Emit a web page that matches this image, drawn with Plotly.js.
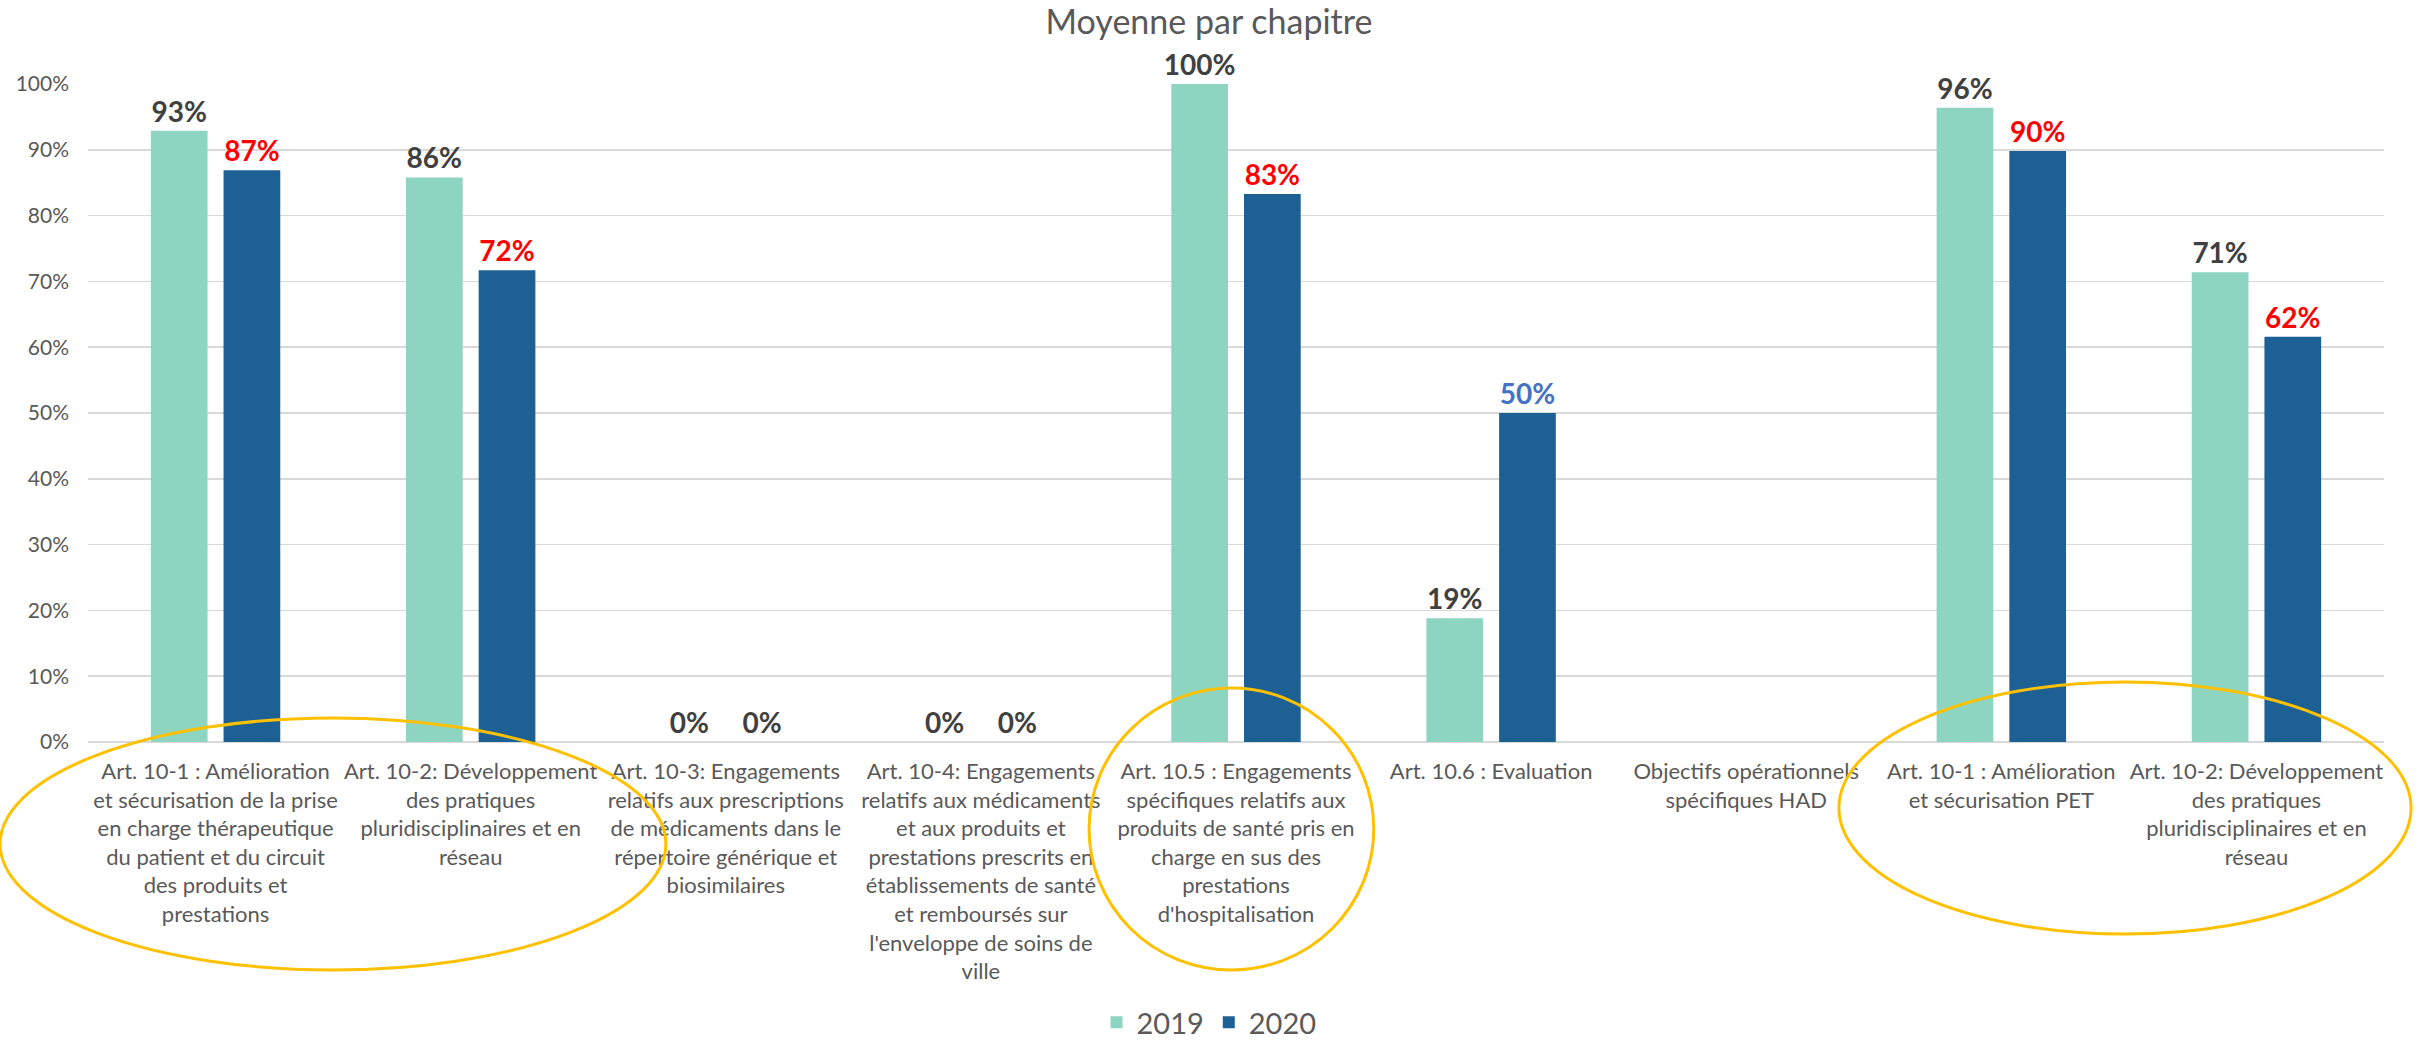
<!DOCTYPE html>
<html>
<head>
<meta charset="utf-8">
<script src="https://cdn.plot.ly/plotly-3.0.1.min.js"></script>
<style>html,body{margin:0;padding:0;background:#fff;}#chart{width:2418px;height:1048px;}</style>
</head>
<body>
<div id="chart"></div>
<script>
var categories = [
  "Art. 10-1 : Amélioration<br>et sécurisation de la prise<br>en charge thérapeutique<br>du patient et du circuit<br>des produits et<br>prestations",
  "Art. 10-2: Développement<br>des pratiques<br>pluridisciplinaires et en<br>réseau",
  "Art. 10-3: Engagements<br>relatifs aux prescriptions<br>de médicaments dans le<br>répertoire générique et<br>biosimilaires",
  "Art. 10-4: Engagements<br>relatifs aux médicaments<br>et aux produits et<br>prestations prescrits en<br>établissements de santé<br>et remboursés sur<br>l'enveloppe de soins de<br>ville",
  "Art. 10.5 : Engagements<br>spécifiques relatifs aux<br>produits de santé pris en<br>charge en sus des<br>prestations<br>d'hospitalisation",
  "Art. 10.6 : Evaluation",
  "Objectifs opérationnels<br>spécifiques HAD",
  "Art. 10-1 : Amélioration<br>et sécurisation PET",
  "Art. 10-2: Développement<br>des pratiques<br>pluridisciplinaires et en<br>réseau"
];
var positions = [0, 1, 2, 3, 4, 5, 6, 7, 8];
var values2019 = [0.929, 0.858, 0, 0, 1.0, 0.188, null, 0.964, 0.714];
var values2020 = [0.869, 0.717, 0, 0, 0.833, 0.5, null, 0.898, 0.616];
var labelColors2019 = ["#404040","#404040","#404040","#404040","#404040","#404040","#404040","#404040","#404040"];
var labelColors2020 = ["#FF0000","#FF0000","#404040","#404040","#FF0000","#4472C4","#404040","#FF0000","#FF0000"];
var seriesNames = ["2019", "2020"];
var yTickVals = [0,0.1,0.2,0.3,0.4,0.5,0.6,0.7,0.8,0.9,1.0];

var FONT = "Lato, 'Open Sans', sans-serif";

var traces = [
  {
    type: "bar", name: seriesNames[0], x: positions, y: values2019,
    marker: {color: "#8DD5C1"},
    texttemplate: "%{y:.0%}", textposition: "outside", cliponaxis: false,
    constraintext: "none",
    textfont: {family: FONT, size: 28, color: labelColors2019, weight: "bold"},
    hoverinfo: "skip"
  },
  {
    type: "bar", name: seriesNames[1], x: positions, y: values2020,
    marker: {color: "#1D6194"},
    texttemplate: "%{y:.0%}", textposition: "outside", cliponaxis: false,
    constraintext: "none",
    textfont: {family: FONT, size: 28, color: labelColors2020, weight: "bold"},
    hoverinfo: "skip"
  }
];

var ell = {type: "circle", xref: "paper", yref: "paper", line: {color: "#FFC000", width: 3}, fillcolor: "rgba(0,0,0,0)"};
var shapes = [
  Object.assign({}, ell, {x0: -0.0383, x1: 0.2517, y0: -0.3465, y1: 0.0365}),
  Object.assign({}, ell, {x0: 0.436, x1: 0.560, y0: -0.3465, y1: 0.082}),
  Object.assign({}, ell, {x0: 0.7626, x1: 1.0118, y0: -0.2918, y1: 0.0912})
];

var layout = {
  width: 2418, height: 1048,
  paper_bgcolor: "#FFFFFF", plot_bgcolor: "#FFFFFF",
  margin: {l: 88, r: 34, t: 84, b: 306, autoexpand: false},
  font: {family: FONT, color: "#595959"},
  title: {text: "Moyenne par chapitre", x: 0.5, xref: "container", y: 0.979, yref: "container", yanchor: "middle",
          font: {family: FONT, size: 34, color: "#595959"}},
  barmode: "group", bargap: 0.43, bargroupgap: 0.22,
  showlegend: true,
  legend: {orientation: "h", x: 0.5, xanchor: "center", xref: "container", y: -0.009, yanchor: "bottom", yref: "container",
           font: {family: FONT, size: 29, color: "#595959"}, traceorder: "normal", itemwidth: 30},
  xaxis: {
    type: "linear", range: [-0.5, 8.5], tickmode: "array", tickvals: positions, ticktext: categories,
    showgrid: false, zeroline: false, showline: false, ticks: "", automargin: false,
    tickfont: {family: FONT, size: 22, color: "#595959"}, ticklabelstandoff: 14, fixedrange: true
  },
  yaxis: {
    range: [0, 1], tickmode: "array", tickvals: yTickVals, tickformat: ".0%",
    showgrid: true, gridcolor: "#D9D9D9", gridwidth: 1.5,
    zeroline: true, zerolinecolor: "#D9D9D9", zerolinewidth: 1.5,
    showline: false, ticks: "", automargin: false,
    tickfont: {family: FONT, size: 21, color: "#595959"}, ticklabelstandoff: 18, fixedrange: true
  },
  shapes: shapes
};

Plotly.newPlot("chart", traces, layout, {staticPlot: true, displayModeBar: false});
</script>
</body>
</html>
